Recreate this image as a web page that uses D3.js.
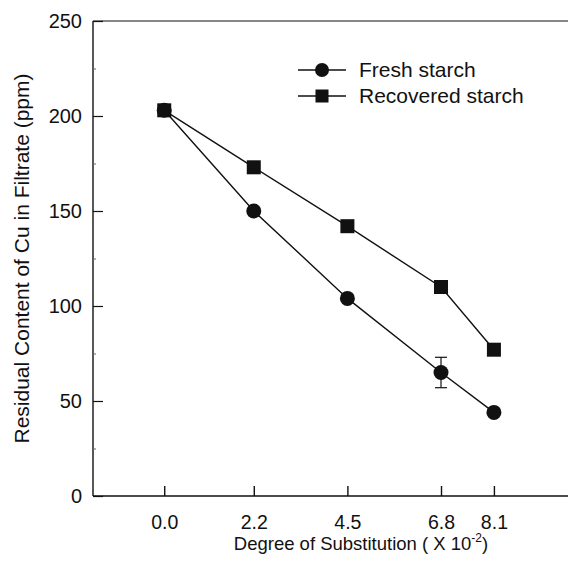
<!DOCTYPE html>
<html>
<head>
<meta charset="utf-8">
<script src="https://cdn.jsdelivr.net/npm/d3@7"></script>
<style>
  html, body { margin: 0; padding: 0; background: #fff; }
  svg { display: block; font-family: "Liberation Sans", Arial, sans-serif; }
</style>
</head>
<body>
<svg id="chart" width="568" height="570"></svg>
<script>
// Degree of substitution (x 10^-2) and residual Cu in filtrate (ppm)
const dsValues = [0.0, 2.2, 4.5, 6.8, 8.1];
const xTickLabels = ["0.0", "2.2", "4.5", "6.8", "8.1"];
const freshStarch = [203, 150, 104, 65, 44];
const freshError = [0, 0, 0, 8, 0];
const recoveredStarch = [203, 173, 142, 110, 77];
const yTicks = [0, 50, 100, 150, 200, 250];
const yMinorTicks = [25, 75, 125, 175, 225];
const seriesNames = ["Fresh starch", "Recovered starch"];

const svg = d3.select("#chart");
const plotLeft = 93, plotRight = 568, plotTop = 21, plotBottom = 496;
const ink = "#111";
const fontFamily = "Liberation Sans, Arial, sans-serif";

const x = d3.scaleLinear().domain([-1.75, 9.92]).range([plotLeft, plotRight]);
const y = d3.scaleLinear().domain([0, 250]).range([plotBottom, plotTop]);

// frame lines: left and top, bottom axis
svg.append("line").attr("x1", plotLeft).attr("x2", plotLeft).attr("y1", plotTop).attr("y2", plotBottom)
  .attr("stroke", ink).attr("stroke-width", 1.4);
svg.append("line").attr("x1", plotLeft).attr("x2", plotRight).attr("y1", plotTop).attr("y2", plotTop)
  .attr("stroke", ink).attr("stroke-width", 1.2);
svg.append("line").attr("x1", plotLeft).attr("x2", plotRight).attr("y1", plotBottom).attr("y2", plotBottom)
  .attr("stroke", ink).attr("stroke-width", 1.4);

// y axis: inward ticks
const yAxis = d3.axisLeft(y).tickValues(yTicks).tickSize(-10).tickPadding(11)
  .tickFormat(d3.format("d"));
const gy = svg.append("g").attr("transform", `translate(${plotLeft},0)`).call(yAxis);
gy.select(".domain").remove();
gy.selectAll(".tick line").attr("stroke", ink).attr("stroke-width", 1.2);
gy.selectAll(".tick text").attr("font-size", 20).attr("fill", ink)
  .attr("font-family", fontFamily);
const gyMinor = svg.append("g").attr("transform", `translate(${plotLeft},0)`)
  .call(d3.axisLeft(y).tickValues(yMinorTicks).tickSize(-3).tickFormat(""));
gyMinor.select(".domain").remove();
gyMinor.selectAll(".tick line").attr("stroke", "#666").attr("stroke-width", 1);

// x axis: inward ticks
const xAxis = d3.axisBottom(x).tickValues(dsValues).tickSize(-10).tickPadding(19)
  .tickFormat((d, i) => xTickLabels[i]);
const gx = svg.append("g").attr("transform", `translate(0,${plotBottom})`).call(xAxis);
gx.select(".domain").remove();
gx.selectAll(".tick line").attr("stroke", ink).attr("stroke-width", 1.4);
gx.selectAll(".tick text").attr("font-size", 19.5).attr("fill", ink)
  .attr("font-family", fontFamily);

// axis titles
const xt = svg.append("text").attr("x", 361).attr("y", 550).attr("text-anchor", "middle")
  .attr("font-size", 18.5).attr("fill", ink);
xt.append("tspan").text("Degree of Substitution ( X 10");
xt.append("tspan").attr("font-size", 12).attr("dy", -8).text("-2");
xt.append("tspan").attr("dy", 8).text(")");

svg.append("text")
  .attr("transform", `translate(29,${(plotTop + plotBottom) / 2}) rotate(-90)`)
  .attr("text-anchor", "middle").attr("font-size", 21).attr("fill", ink)
  .text("Residual Content of Cu in Filtrate (ppm)");

// series lines
const line = d3.line().x((d, i) => x(dsValues[i])).y(d => y(d));
[recoveredStarch, freshStarch].forEach(s => {
  svg.append("path").datum(s).attr("d", line)
    .attr("fill", "none").attr("stroke", ink).attr("stroke-width", 1.4);
});

// error bars on fresh starch
freshStarch.forEach((v, i) => {
  const e = freshError[i];
  if (!e) return;
  const cx = x(dsValues[i]);
  const g = svg.append("g").attr("stroke", ink).attr("stroke-width", 1.2);
  g.append("line").attr("x1", cx).attr("x2", cx).attr("y1", y(v + e)).attr("y2", y(v - e));
  g.append("line").attr("x1", cx - 6).attr("x2", cx + 6).attr("y1", y(v + e)).attr("y2", y(v + e));
  g.append("line").attr("x1", cx - 6).attr("x2", cx + 6).attr("y1", y(v - e)).attr("y2", y(v - e));
});

// markers
const sq = 14, rad = 7.5;
svg.append("g").selectAll("rect").data(recoveredStarch).join("rect")
  .attr("x", (d, i) => x(dsValues[i]) - sq / 2).attr("y", d => y(d) - sq / 2)
  .attr("width", sq).attr("height", sq).attr("fill", ink);
svg.append("g").selectAll("circle").data(freshStarch).join("circle")
  .attr("cx", (d, i) => x(dsValues[i])).attr("cy", d => y(d))
  .attr("r", rad).attr("fill", ink);

// legend
const lg = svg.append("g");
const legendRows = [{ name: seriesNames[0], shape: "circle", y: 70 }, { name: seriesNames[1], shape: "square", y: 96 }];
legendRows.forEach(r => {
  lg.append("line").attr("x1", 298).attr("x2", 346).attr("y1", r.y).attr("y2", r.y)
    .attr("stroke", ink).attr("stroke-width", 1.4);
  if (r.shape === "circle") {
    lg.append("circle").attr("cx", 322).attr("cy", r.y).attr("r", 7).attr("fill", ink);
  } else {
    lg.append("rect").attr("x", 322 - 6.5).attr("y", r.y - 6.5).attr("width", 13).attr("height", 13).attr("fill", ink);
  }
  lg.append("text").attr("x", 359).attr("y", r.y + 7).attr("font-size", 21).attr("fill", ink).text(r.name);
});
</script>
</body>
</html>
